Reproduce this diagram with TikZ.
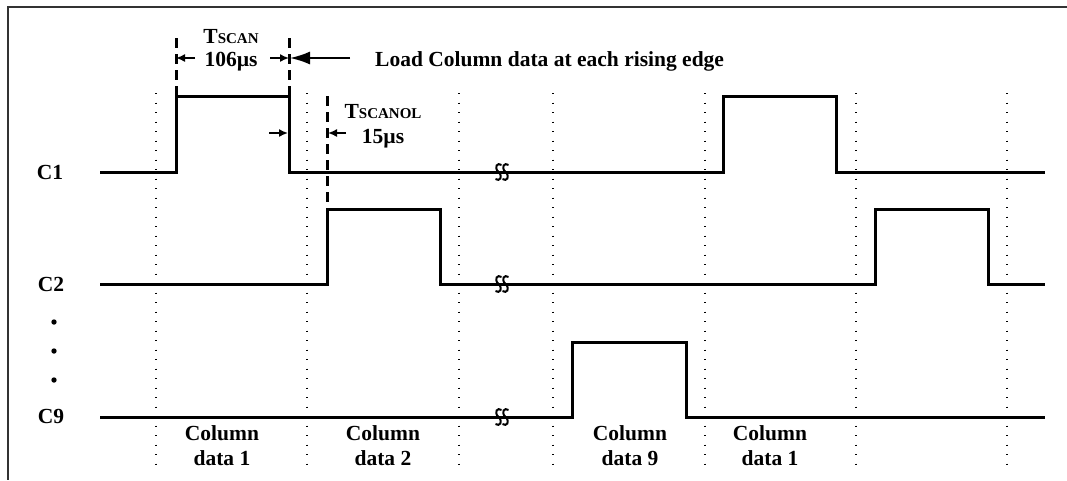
\documentclass[tikz,border=0pt]{standalone}
\usepackage{fontspec}
\setmainfont{Liberation Serif}
\usepackage{tikz}
\usetikzlibrary{arrows.meta}
\tikzset{
	sig/.style={line width=3pt, line join=miter},
	grid/.style={line width=1.4pt, dash pattern=on 1.4pt off 8.1pt},
	marker/.style={line width=3pt, dash pattern=on 10pt off 6pt},
	dim/.style={line width=1.6pt, -{Latex[length=9pt,width=8pt]}},
	bigdim/.style={line width=1.8pt, -{Latex[length=20pt,width=13pt]}},
	brk/.style={line width=2pt},
	lbl/.style={font=\fontsize{21.5}{24}\selectfont\bfseries, anchor=base, inner sep=0pt},
}
\newcommand{\scansub}[1]{{\fontsize{15}{15}\selectfont #1}}

\begin{document}
\begin{tikzpicture}[x=1pt,y=-1pt]
			\useasboundingbox (0,0) rectangle (1067,480);
			\draw[line width=1.5pt, black!80] (1067,7) -- (8,7) -- (8,480);
			% column borders
			\foreach \x in {156,307,459,553,705,856,1007}
				\draw[grid] (\x,93) -- (\x,472);
			% signals
			\draw[sig] (100,172) -- (176,172) -- (176,96) -- (289,96) -- (289,172) -- (723,172) -- (723,96) -- (836,96) -- (836,172) -- (1045,172);
			\draw[sig] (100,284) -- (327,284) -- (327,209) -- (440,209) -- (440,284) -- (875,284) -- (875,209) -- (988,209) -- (988,284) -- (1045,284);
			\draw[sig] (100,417) -- (572,417) -- (572,342) -- (686,342) -- (686,417) -- (1045,417);
			\foreach \y in {172,284,417}
				\foreach \dx in {-3.5,3.5} {
					\begin{scope}[shift={(502+\dx,\y)}]
						\draw[brk] (3,-7) .. controls (-1,-10) and (-5,-5) .. (0,0) .. controls (5,5) and (1,10) .. (-3,7);
					\end{scope}
				}
			% signal names
			\node[lbl] (c1) at (50,179) {C1};
			\node[lbl] (c2) at (51,291) {C2};
			\node[lbl] (c9) at (51,423) {C9};
			\foreach \y in {322,351,380}
				\fill (54,\y) circle (2.7pt);
			% timing marks
			\draw[marker] (176,38) -- (176,96);
			\draw[marker] (289,38) -- (289,96);
			\draw[marker] (327,96) -- (327,209);
			\coordinate (scanA) at (176,58);
			\coordinate (scanB) at (289,58);
			\coordinate (olA) at (288,133);
			\coordinate (olB) at (328,133);
			\draw[dim] ([xshift=19pt]scanA) -- (scanA);
			\draw[dim] ([xshift=-19pt]scanB) -- (scanB);
			\draw[bigdim] ([xshift=61pt]scanB) -- ([xshift=1pt]scanB);
			\draw[dim] ([xshift=-19pt]olA) -- (olA);
			\draw[dim] ([xshift=18pt]olB) -- (olB);
			\node[lbl] (tscan) at (231,43) {T\scansub{SCAN}};
			\node[lbl] (tscanval) at (231,66) {106µs};
			\node[lbl] (tol) at (383,118) {T\scansub{SCANOL}};
			\node[lbl] (tolval) at (383,143) {15µs};
			\node[lbl, anchor=base west] (load) at (375,66) {Load Column data at each rising edge};
			% column data labels
			\node[lbl] (col1) at (222,440) {Column};
			\node[lbl] (dat1) at (222,465) {data 1};
			\node[lbl] (col2) at (383,440) {Column};
			\node[lbl] (dat2) at (383,465) {data 2};
			\node[lbl] (col9) at (630,440) {Column};
			\node[lbl] (dat9) at (630,465) {data 9};
			\node[lbl] (col1b) at (770,440) {Column};
			\node[lbl] (dat1b) at (770,465) {data 1};
\end{tikzpicture}
\end{document}
